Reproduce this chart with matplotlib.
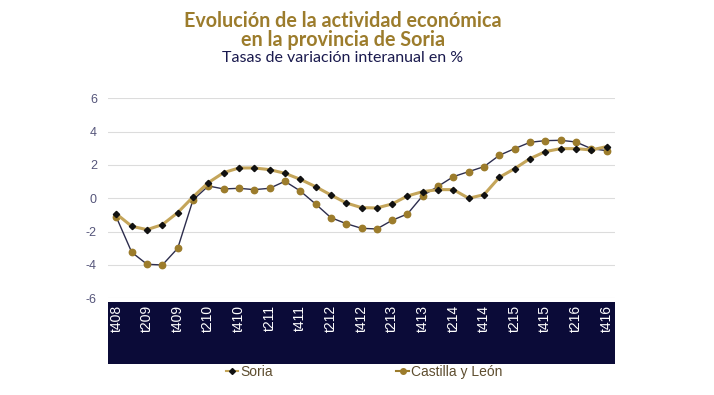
import matplotlib.pyplot as plt
from matplotlib.lines import Line2D

quarters = ['t408', 't109', 't209', 't309', 't409', 't110', 't210', 't310', 't410',
            't111', 't211', 't311', 't411', 't112', 't212', 't312', 't412',
            't113', 't213', 't313', 't413', 't114', 't214', 't314', 't414',
            't115', 't215', 't315', 't415', 't116', 't216', 't316', 't416']

soria = [-0.94, -1.68, -1.88, -1.58, -0.86, 0.08, 0.94, 1.54, 1.82, 1.82, 1.72,
         1.5, 1.14, 0.7, 0.2, -0.28, -0.56, -0.58, -0.34, 0.14, 0.4, 0.52, 0.52,
         0.0, 0.22, 1.26, 1.78, 2.38, 2.8, 2.98, 2.98, 2.9, 3.1]

cyl = [-1.14, -3.24, -3.96, -4.0, -3.0, -0.1, 0.74, 0.56, 0.6, 0.52, 0.6,
       1.02, 0.44, -0.34, -1.16, -1.52, -1.8, -1.84, -1.32, -0.94, 0.16, 0.72,
       1.3, 1.6, 1.9, 2.58, 2.98, 3.36, 3.46, 3.48, 3.38, 2.98, 2.86]

yticks = [-6, -4, -2, 0, 2, 4, 6]

gold = '#9c7c2c'
tan = '#c4a55a'
navy = '#0b0b38'

W, H = 714, 395
fig = plt.figure(figsize=(W / 100, H / 100), dpi=100)

# main plot area
ax = fig.add_axes([108 / W, 1 - 298.3 / H, 507 / W, 200 / H])
x = list(range(len(quarters)))
ax.plot(x, cyl, color='#2d2d4d', linewidth=1.0, marker='o', markersize=4.6,
        markerfacecolor=gold, markeredgecolor=gold, zorder=3)
ax.plot(x, soria, color=tan, linewidth=2.2, marker='D', markersize=3.2,
        markerfacecolor='#111111', markeredgecolor='#111111', zorder=4)
ax.set_xlim(-0.55, len(quarters) - 0.45)
ax.set_ylim(-6, 6)
ax.set_yticks(yticks)
ax.set_yticklabels([str(v) for v in yticks], fontsize=9, color='#55557a',
                   family='Liberation Sans')
ax.tick_params(axis='y', length=0, pad=8)
ax.set_xticks([])
ax.grid(axis='y', color='#dcdcdc', linewidth=0.8)
ax.set_axisbelow(True)
for s in ax.spines.values():
    s.set_visible(False)

# dark band with the quarter labels
band = fig.add_axes([108 / W, 1 - 364 / H, 507 / W, 62 / H])
band.set_facecolor(navy)
band.set_xlim(ax.get_xlim())
band.set_ylim(0, 1)
band.set_xticks([])
band.set_yticks([])
for s in band.spines.values():
    s.set_visible(False)
for i in range(0, len(quarters), 2):
    band.text(i, 0.95, quarters[i], rotation=90, color='white', fontsize=10,
              ha='center', va='top', family='Liberation Sans')

# legend
handles = [Line2D([], [], color=tan, linewidth=1.5, marker='D', markersize=3,
                  markerfacecolor='#111111', markeredgecolor='#111111'),
           Line2D([], [], color=gold, linewidth=1.5, marker='o', markersize=4,
                  markerfacecolor=gold, markeredgecolor=gold)]
leg = fig.legend(handles, ['Soria', 'Castilla y León'], loc='center',
                 bbox_to_anchor=(364 / W, 1 - 372 / H), ncol=2, frameon=False,
                 handlelength=0.9, handletextpad=0.15, columnspacing=8.9,
                 prop={'family': 'Liberation Sans', 'size': 10})
for t in leg.get_texts():
    t.set_color('#5e4e30')

# titles
fig.text(343 / W, 1 - 21 / H, 'Evolución de la actividad económica', ha='center',
         va='center', fontsize=14.2, fontweight='bold', color=gold, family='Lato')
fig.text(343 / W, 1 - 40 / H, 'en la provincia de Soria', ha='center',
         va='center', fontsize=14.2, fontweight='bold', color=gold, family='Lato')
fig.text(343 / W, 1 - 58 / H, 'Tasas de variación interanual en %', ha='center',
         va='center', fontsize=11.5, color='#1a1a4e', family='Lato')

fig.savefig('out.png', dpi=100, facecolor='white')
